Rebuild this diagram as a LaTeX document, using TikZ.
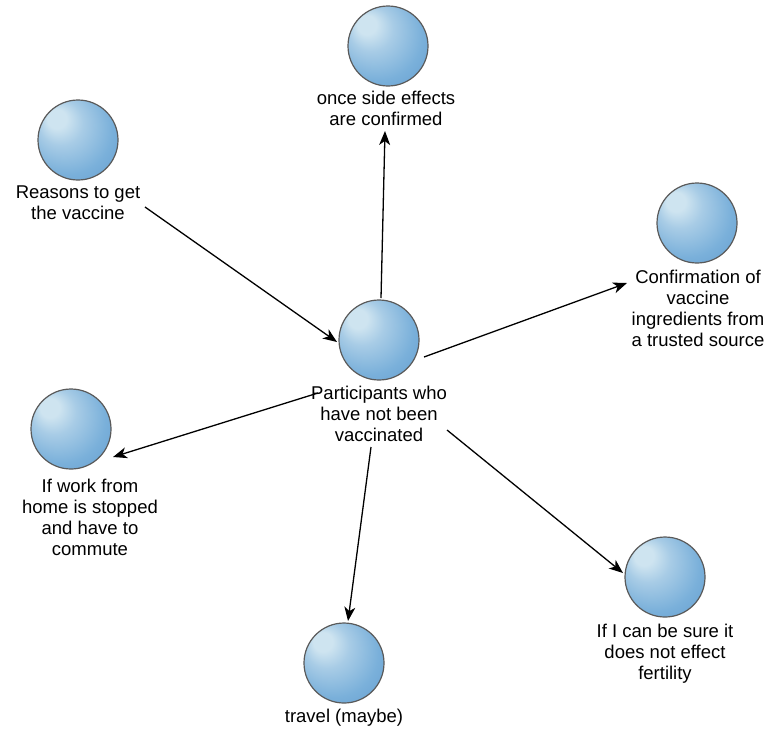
\documentclass[tikz,border=0pt]{standalone}
\usepackage{fontspec}
\setmainfont{Liberation Sans}
\usetikzlibrary{arrows.meta}
\definecolor{sphHL}{RGB}{206,228,240}
\definecolor{sphHLb}{RGB}{168,204,230}
\definecolor{sphMid}{RGB}{122,176,218}
\definecolor{sphEdge}{RGB}{92,150,204}
\definecolor{sphLine}{RGB}{90,90,90}
\pgfdeclareradialshading{sphshade}{\pgfpoint{-15bp}{15bp}}{%
  color(0bp)=(sphHL); color(6bp)=(sphHL); color(14bp)=(sphHLb);
  color(28bp)=(sphMid); color(46bp)=(sphEdge); color(50bp)=(sphEdge)}
\begin{document}
\begin{tikzpicture}[x=1pt,y=1pt,
  sphere/.style={circle,minimum size=80pt,inner sep=0pt,shading=sphshade,draw=sphLine,line width=1.2pt},
  lbl/.style={anchor=north,inner sep=0pt,align=center,font=\fontsize{18.5}{21}\selectfont},
  arr/.style={-{Stealth[length=14pt,width=11pt,inset=4pt]},line width=1.3pt,black}]
\useasboundingbox (0,0) rectangle (767,-729);
\fill[white] (0,0) rectangle (767,-729);
% spheres
\node[sphere] (cs) at (379,-340) {};
\node[sphere] (ts) at (388,-46) {};
\node[sphere] (rs) at (78,-140) {};
\node[sphere] (fs) at (697,-223) {};
\node[sphere] (ls) at (71,-429) {};
\node[sphere] (bs) at (344,-663) {};
\node[sphere] (brs) at (665,-577) {};
% labels
\node[lbl] (ct) at (379,-385.5) {Participants who\\have not been\\vaccinated};
\node[lbl] (tt) at (386,-90.5) {once side effects\\are confirmed};
\node[lbl] (rt) at (78,-185.5) {Reasons to get\\the vaccine};
\node[lbl] (ft) at (698,-269.5) {Confirmation of\\vaccine\\ingredients from\\a trusted source};
\node[lbl] (lt) at (90,-478.5) {If work from\\home is stopped\\and have to\\commute};
\node[lbl] (bt) at (344,-708.5) {travel (maybe)};
\node[lbl] (brt) at (665,-623.5) {If I can be sure it\\does not effect\\fertility};
% connectors
\draw[arr] ([shift={(67,-21.5)}]rt.north) -- ([shift={(-42,-2)}]cs.center);
\draw[arr] ([shift={(2,42)}]cs.center) -- ([shift={(-1,-40.5)}]tt.north);
\draw[arr] ([shift={(45,-17)}]cs.center) -- ([shift={(-71,-13.5)}]ft.north);
\draw[arr] ([shift={(-61,-7.5)}]ct.north) -- ([shift={(42,-28)}]ls.center);
\draw[arr] ([shift={(-8,-61.5)}]ct.north) -- ([shift={(4,42)}]bs.center);
\draw[arr] ([shift={(68,-44.5)}]ct.north) -- ([shift={(-42,4)}]brs.center);
\end{tikzpicture}
\end{document}
